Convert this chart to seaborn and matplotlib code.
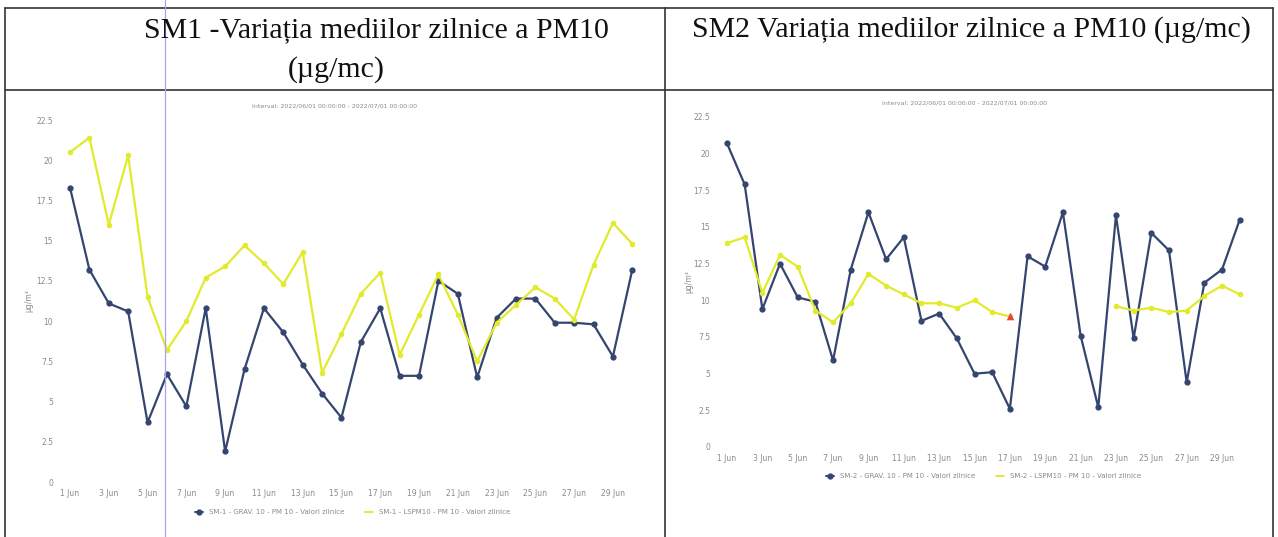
import numpy as np
import pandas as pd
import matplotlib
matplotlib.use("Agg")
import matplotlib.pyplot as plt
import seaborn as sns
from matplotlib.lines import Line2D

sns.set_theme(style="white")
plt.rcParams['font.family'] = ['DejaVu Sans']

days = list(range(1, 31))
xtick_days = list(range(1, 30, 2))
xtick_labels = [f"{d} Jun" for d in xtick_days]
yticks = [0, 2.5, 5, 7.5, 10, 12.5, 15, 17.5, 20, 22.5]
ytick_labels = ["0", "2.5", "5", "7.5", "10", "12.5", "15", "17.5", "20", "22.5"]

sm1_grav = [18.3, 13.2, 11.1, 10.6, 3.7, 6.7, 4.7, 10.8, 1.9, 7.0,
            10.8, 9.3, 7.3, 5.5, 4.0, 8.7, 10.8, 6.6, 6.6, 12.5,
            11.7, 6.5, 10.2, 11.4, 11.4, 9.9, 9.9, 9.8, 7.8, 13.2]
sm1_lspm = [20.5, 21.4, 16.0, 20.3, 11.5, 8.2, 10.0, 12.7, 13.4, 14.7,
            13.6, 12.3, 14.3, 6.8, 9.2, 11.7, 13.0, 7.9, 10.4, 12.9,
            10.4, 7.5, 9.9, 11.0, 12.1, 11.4, 10.1, 13.5, 16.1, 14.8]
sm2_grav = [20.7, 17.9, 9.4, 12.5, 10.2, 9.9, 5.9, 12.1, 16.0, 12.8,
            14.3, 8.6, 9.1, 7.4, 5.0, 5.1, 2.6, 13.0, 12.3, 16.0,
            7.6, 2.7, 15.8, 7.4, 14.6, 13.4, 4.4, 11.2, 12.1, 15.5]
sm2_lspm = [13.9, 14.3, 10.5, 13.1, 12.3, 9.3, 8.5, 9.8, 11.8, 11.0,
            10.4, 9.8, 9.8, 9.5, 10.0, 9.2, 8.9, np.nan, np.nan, np.nan,
            np.nan, np.nan, 9.6, 9.3, 9.5, 9.2, 9.3, 10.3, 11.0, 10.4]
sm2_flag_day = [17]

NAVY = "#34456f"
YEL = "#e2ea2c"
TICK = "#8a8a8a"

W, H = 1278, 537
fig = plt.figure(figsize=(W / 100, H / 100), dpi=100)
fig.patch.set_facecolor("white")

def fx(x):
    return x / W

def fy(y):
    return 1 - y / H

# table lines
for x in [5, 665, 1273]:
    fig.add_artist(Line2D([fx(x), fx(x)], [fy(8), fy(537)], color="#333333", lw=1.2))
for y in [8, 90]:
    fig.add_artist(Line2D([fx(5), fx(1273)], [fy(y), fy(y)], color="#333333", lw=1.2))
# scan artifact line
fig.add_artist(Line2D([fx(165), fx(165)], [fy(0), fy(537)], color="#a9a2f2", lw=0.9))

tfont = dict(family="Liberation Serif", fontsize=21.5, color="#111111")
fig.text(fx(376), fy(30), "SM1 -Variația mediilor zilnice a PM10", ha="center", va="center", **tfont)
fig.text(fx(336), fy(70), "(µg/mc)", ha="center", va="center", **tfont)
fig.text(fx(971), fy(30), "SM2 Variația mediilor zilnice a PM10 (µg/mc)", ha="center", va="center", **tfont)


def draw(ax_px, day1_x, px_day, y0, y225, grav, lspm, gl, ll, interval_xy, leg_y, ylab_x, flag=None):
    left, right = ax_px
    ax = fig.add_axes([fx(left), fy(y0), fx(right - left), (y0 - y225) / H])
    ax.set_facecolor("none")
    x0 = 1 - (day1_x - left) / px_day
    x1 = 1 + (right - day1_x) / px_day
    df_g = pd.DataFrame({"day": days, "val": grav})
    df_l = pd.DataFrame({"day": days, "val": lspm})
    df_l["seg"] = df_l["val"].isna().cumsum()
    df_l = df_l.dropna()
    sns.lineplot(data=df_g, x="day", y="val", ax=ax, color=NAVY, lw=1.6,
                 marker="o", markersize=4.5, markeredgewidth=0)
    for _, seg in df_l.groupby("seg"):
        sns.lineplot(data=seg, x="day", y="val", ax=ax, color=YEL, lw=1.6,
                     marker="o", markersize=4, markeredgewidth=0)
    if flag is not None:
        fdf = pd.DataFrame({"day": flag, "val": [lspm[d - 1] for d in flag]})
        sns.scatterplot(data=fdf, x="day", y="val", ax=ax, color="#e8453c",
                        marker="^", s=30, linewidth=0, zorder=5)
    ax.set_xlim(x0, x1)
    ax.set_ylim(0, 22.5)
    ax.set_xticks(xtick_days)
    ax.set_xticklabels(xtick_labels)
    ax.set_yticks(yticks)
    ax.set_yticklabels(ytick_labels)
    ax.tick_params(axis="both", length=0, labelsize=5.5, colors=TICK, pad=5)
    ax.set_xlabel("")
    ax.set_ylabel("µg/m³", fontsize=5.5, color=TICK)
    ax.yaxis.set_label_coords((ylab_x - left) / (right - left), 0.5)
    for s in ax.spines.values():
        s.set_visible(False)
    ax.grid(False)
    ix, iy = interval_xy
    fig.text(fx(ix), fy(iy), "Interval: 2022/06/01 00:00:00 - 2022/07/01 00:00:00",
             ha="center", va="center", fontsize=4.5, color=TICK)
    handles = [Line2D([], [], color=NAVY, marker="o", markersize=3.5, lw=1.4, label=gl),
               Line2D([], [], color=YEL, lw=1.4, label=ll)]
    leg = ax.legend(handles=handles, loc="center", ncol=2, frameon=False,
                    fontsize=5, handlelength=1.2, columnspacing=3,
                    bbox_to_anchor=(0.5, (y0 - leg_y) / (y0 - y225)),
                    bbox_transform=ax.transAxes)
    for t in leg.get_texts():
        t.set_color(TICK)
    return ax


draw((60, 645), 70, 19.39, 482, 120, sm1_grav, sm1_lspm,
     "SM-1 - GRAV. 10 - PM 10 - Valori zilnice",
     "SM-1 - LSPM10 - PM 10 - Valori zilnice",
     (335, 106), 512, 33)
draw((717, 1250), 727, 17.68, 447, 117, sm2_grav, sm2_lspm,
     "SM-2 - GRAV. 10 - PM 10 - Valori zilnice",
     "SM-2 - LSPM10 - PM 10 - Valori zilnice",
     (965, 103), 476, 693, flag=sm2_flag_day)

fig.savefig("out.png", dpi=100, facecolor="white")
